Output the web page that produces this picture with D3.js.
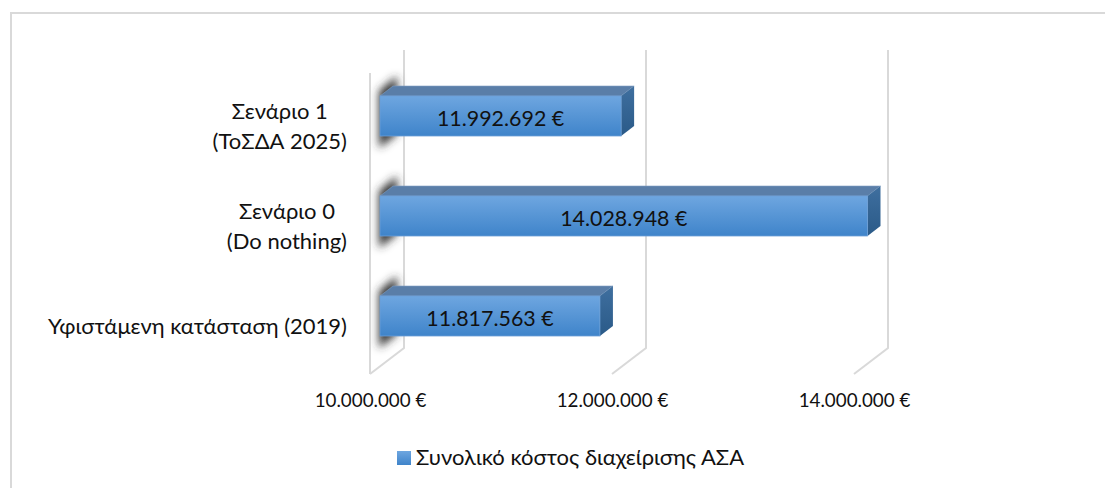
<!DOCTYPE html>
<html>
<head>
<meta charset="utf-8">
<script src="https://cdn.jsdelivr.net/npm/d3@7"></script>
<style>
  html, body { margin: 0; padding: 0; background: #fff; }
  svg { display: block; }
  text { font-family: Lato, "Open Sans", sans-serif; fill: #111; }
</style>
</head>
<body>
<div id="chart"></div>
<script>
// chart data
const categories = ["Σενάριο 1\n(ΤοΣΔΑ 2025)", "Σενάριο 0\n(Do nothing)", "Υφιστάμενη κατάσταση (2019)"];
const values = [11992692, 14028948, 11817563];
const tickValues = [10000000, 12000000, 14000000];
const seriesName = "Συνολικό κόστος διαχείρισης ΑΣΑ";

const width = 1105;
const height = 488;

// greek style number format, 11.992.692 €
const euro = d3.formatLocale({ decimal: ",", thousands: ".", grouping: [3], currency: ["", " €"] }).format("$,.0f");

const svg = d3.select("#chart").append("svg")
    .attr("width", width)
    .attr("height", height);

const defs = svg.append("defs");

function gradient(id, c1, c2) {
    const g = defs.append("linearGradient").attr("id", id)
        .attr("x1", 0).attr("y1", 0).attr("x2", 0).attr("y2", 1);
    g.append("stop").attr("offset", "0%").attr("stop-color", c1);
    g.append("stop").attr("offset", "100%").attr("stop-color", c2);
}
gradient("barFront", "#6ea6e0", "#3f84ca");
gradient("barSide", "#3f6f9f", "#2a5a88");

defs.append("filter").attr("id", "wallShadow")
    .attr("x", "-60%").attr("y", "-50%").attr("width", "220%").attr("height", "200%")
    .append("feGaussianBlur").attr("stdDeviation", 4);

// outer frame, only top and left show in the picture
svg.append("path")
    .attr("d", "M11,488V13H1105")
    .attr("fill", "none")
    .attr("stroke", "#d9d9d9")
    .attr("stroke-width", 2);

// scales: x is the front edge of the floor, the walls sit behind it
const x = d3.scaleLinear().domain([10000000, 14000000]).range([370, 854]);
const y = d3.scaleBand().domain(categories).range([66, 366]).paddingInner(0.6).paddingOuter(0.3);

const floorDx = 34, floorDy = 26;   // depth of the 3d floor
const barDx = 13, barDy = 10;       // depth of a bar
const barInset = 10;                // bars stand a little behind the front edge
const floorY = 374;
const wallTop = 50;

// walls and floor
svg.append("g").selectAll("path")
    .data(tickValues)
    .enter()
    .append("path")
    .attr("d", d => `M${x(d)},${floorY}L${x(d) + floorDx},${floorY - floorDy}V${wallTop}`)
    .attr("fill", "none")
    .attr("stroke", "#d9d9d9")
    .attr("stroke-width", 2);

svg.append("line")
    .attr("x1", x(tickValues[0])).attr("x2", x(tickValues[0]))
    .attr("y1", floorY).attr("y2", wallTop + floorDy - 3)
    .attr("stroke", "#d9d9d9")
    .attr("stroke-width", 2);

// shadows the bars throw on the wall
svg.append("g").selectAll("path")
    .data(categories)
    .enter()
    .append("path")
    .attr("d", d => {
        const l = x(tickValues[0]) + barInset - 1, r = l + 18, t = y(d);
        return `M${l},${t - 5}L${r},${t - 20}V${t + 38}L${l},${t + 52}Z`;
    })
    .attr("fill", "#333")
    .attr("filter", "url(#wallShadow)");

// bars
const bar = svg.append("g").selectAll("g")
    .data(values)
    .enter()
    .append("g");

const x0 = x(tickValues[0]) + barInset;
const barRight = d => x(d) + barInset;
const barTop = (d, i) => y(categories[i]);
const barBottom = (d, i) => y(categories[i]) + y.bandwidth();

bar.append("path")
    .attr("d", (d, i) => `M${x0},${barTop(d, i)}l${barDx},${-barDy}H${barRight(d) + barDx}l${-barDx},${barDy}Z`)
    .attr("fill", "#5a7ea8")
    .attr("stroke", "#7f9fc2")
    .attr("stroke-width", 0.6);

bar.append("path")
    .attr("d", (d, i) => `M${barRight(d)},${barTop(d, i)}l${barDx},${-barDy}V${barBottom(d, i) - barDy}l${-barDx},${barDy}Z`)
    .attr("fill", "url(#barSide)");

bar.append("rect")
    .attr("x", x0)
    .attr("y", (d, i) => barTop(d, i))
    .attr("width", d => barRight(d) - x0)
    .attr("height", y.bandwidth())
    .attr("fill", "url(#barFront)")
    .attr("stroke", "#6c9fd6")
    .attr("stroke-width", 0.8);

bar.append("text")
    .attr("x", d => (x0 + barRight(d)) / 2)
    .attr("y", (d, i) => barTop(d, i) + 30)
    .attr("text-anchor", "middle")
    .style("font-size", "21.4px")
    .text(d => euro(d));

// value axis
const xAxis = svg.append("g")
    .attr("transform", "translate(0,391)")
    .call(d3.axisBottom(x).tickValues(tickValues).tickFormat(euro).tickSize(0));
xAxis.select(".domain").remove();
xAxis.selectAll("text").style("font-size", "18.8px").attr("fill", "#111");

// category axis, two line labels are centred inside their own block
const yAxis = svg.append("g")
    .attr("transform", "translate(347,10)")
    .call(d3.axisLeft(y).tickSize(0).tickFormat(""));
yAxis.select(".domain").remove();

yAxis.selectAll(".tick text").each(function(d) {
    const t = d3.select(this).attr("dy", null).attr("x", null).attr("text-anchor", "middle").style("font-size", "22px");
    const lines = d.split("\n");
    const spans = lines.map((s, i) => t.append("tspan")
        .attr("dy", i === 0 ? (lines.length === 1 ? 8 : -7) : 30)
        .text(s));
    const w = d3.max(spans, s => s.node().getComputedTextLength());
    spans.forEach(s => s.attr("x", -w / 2));
});

// legend
const legend = svg.append("g");
legend.append("rect")
    .attr("x", 397).attr("y", 451)
    .attr("width", 14).attr("height", 14)
    .attr("fill", "url(#barFront)");
legend.append("text")
    .attr("x", 416).attr("y", 465)
    .style("font-size", "22px")
    .text(seriesName);
</script>
</body>
</html>
